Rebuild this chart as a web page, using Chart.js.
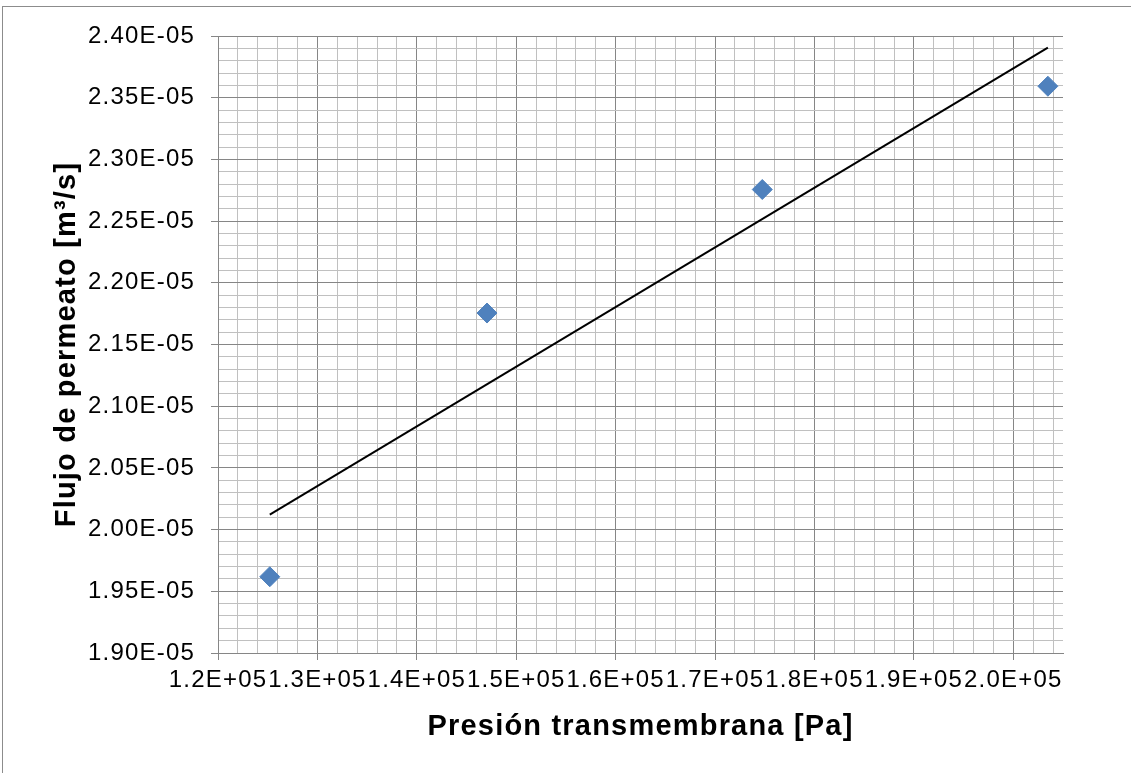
<!DOCTYPE html>
<html>
<head>
<meta charset="utf-8">
<script src="https://cdn.jsdelivr.net/npm/chart.js@4/dist/chart.umd.min.js"></script>
<style>
  html, body { margin: 0; padding: 0; background: #fff; }
  #wrap { width: 1131px; height: 773px; position: relative; }
</style>
</head>
<body>
<div id="wrap"><canvas id="chart"></canvas></div>
<script>
// Presión transmembrana [Pa] vs flujo de permeato [m3/s].
const PRESION = [125210, 147060, 174750, 203480];
const FLUJO = [1.9618e-5, 2.1755e-5, 2.2756e-5, 2.3593e-5];

// Axis range and major tick labels (minor grid every 1/5 of a major step).
const X_MIN = 120000, X_MAX = 205000, X_MINOR = 2000;
const Y_MIN = 1.90e-5, Y_MAX = 2.40e-5, Y_MINOR = 1e-7;
const X_TICK_LABELS = ['1.2E+05', '1.3E+05', '1.4E+05', '1.5E+05', '1.6E+05',
  '1.7E+05', '1.8E+05', '1.9E+05', '2.0E+05'];
const Y_TICK_LABELS = ['1.90E-05', '1.95E-05', '2.00E-05', '2.05E-05', '2.10E-05',
  '2.15E-05', '2.20E-05', '2.25E-05', '2.30E-05', '2.35E-05', '2.40E-05'];

const MAJOR_GRID = '#868686';
const MINOR_GRID = '#C0C0C0';

// Excel-style linear trendline through the measured points.
function linearFit(xs, ys) {
  const n = xs.length;
  const mx = xs.reduce((a, b) => a + b, 0) / n;
  const my = ys.reduce((a, b) => a + b, 0) / n;
  let sxy = 0, sxx = 0;
  xs.forEach((x, i) => { sxy += (x - mx) * (ys[i] - my); sxx += (x - mx) * (x - mx); });
  const slope = sxy / sxx;
  return x => my + slope * (x - mx);
}
const fit = linearFit(PRESION, FLUJO);
const xFirst = Math.min(...PRESION), xLast = Math.max(...PRESION);

function minorTicks(count) {
  const out = [];
  for (let i = 0; i <= count; i++) out.push(i);
  return out;
}

const textSpacing = {
  id: 'textSpacing',
  beforeDraw(chart) {
    const ctx = chart.ctx;
    ctx.save();
    ctx.strokeStyle = '#8C8C8C';
    ctx.lineWidth = 1;
    ctx.strokeRect(2.5, 6.5, 2000, 2000);
    ctx.restore();
    ctx.letterSpacing = '1.2px';
  }
};

Chart.defaults.font.family = '"Liberation Sans", Arial, sans-serif';
Chart.defaults.color = '#000';

new Chart(document.getElementById('chart'), {
  type: 'scatter',
  data: {
    datasets: [
      {
        label: 'Lineal',
        data: [{ x: xFirst, y: fit(xFirst) }, { x: xLast, y: fit(xLast) }],
        showLine: true,
        borderColor: '#000',
        borderWidth: 2,
        pointRadius: 0,
        fill: false
      },
      {
        label: 'Flujo',
        data: PRESION.map((x, i) => ({ x, y: FLUJO[i] })),
        pointStyle: 'rectRot',
        pointRadius: 10,
        backgroundColor: '#4F81BD',
        borderColor: '#4F81BD',
        borderWidth: 1
      }
    ]
  },
  options: {
    responsive: true,
    maintainAspectRatio: false,
    animation: false,
    layout: { padding: { left: 0, top: 36, right: 68, bottom: 0 } },
    plugins: { legend: { display: false }, tooltip: { enabled: false } },
    scales: {
      x: {
        type: 'linear',
        min: X_MIN,
        max: X_MAX,
        afterBuildTicks: s => {
          s.ticks = minorTicks(Math.round((X_MAX - X_MIN) / X_MINOR) - 1)
            .map(i => ({ value: X_MIN + i * X_MINOR }));
        },
        afterFit: s => { s.height = 120; },
        grid: {
          color: c => c.index % 5 === 0 ? MAJOR_GRID : MINOR_GRID,
          tickColor: c => c.index % 5 === 0 ? MAJOR_GRID : 'rgba(0,0,0,0)',
          tickLength: 7
        },
        border: { color: MAJOR_GRID },
        ticks: {
          autoSkip: false,
          maxRotation: 0,
          padding: 6,
          font: { size: 24 },
          callback: (v, i) => i % 5 === 0 ? X_TICK_LABELS[i / 5] : ''
        },
        title: {
          display: true,
          text: 'Presión transmembrana [Pa]',
          font: { size: 29, weight: 'bold' },
          color: '#000',
          padding: { top: 0, bottom: 29 }
        }
      },
      y: {
        type: 'linear',
        min: Y_MIN,
        max: Y_MAX,
        afterBuildTicks: s => {
          s.ticks = minorTicks(Math.round((Y_MAX - Y_MIN) / Y_MINOR))
            .map(i => ({ value: (Math.round(Y_MIN / Y_MINOR) + i) * Y_MINOR }));
        },
        afterFit: s => { s.width = 218; },
        grid: {
          color: c => c.index % 5 === 0 ? MAJOR_GRID : MINOR_GRID,
          tickColor: c => c.index % 5 === 0 ? MAJOR_GRID : 'rgba(0,0,0,0)',
          tickLength: 7
        },
        border: { color: MAJOR_GRID },
        ticks: {
          autoSkip: false,
          padding: 16,
          font: { size: 24 },
          callback: (v, i) => i % 5 === 0 ? Y_TICK_LABELS[i / 5] : ''
        },
        title: {
          display: true,
          text: 'Flujo de permeato [m³/s]',
          font: { size: 29, weight: 'bold' },
          color: '#000',
          padding: { top: 50, bottom: 0 }
        }
      }
    }
  },
  plugins: [textSpacing]
});
</script>
</body>
</html>
